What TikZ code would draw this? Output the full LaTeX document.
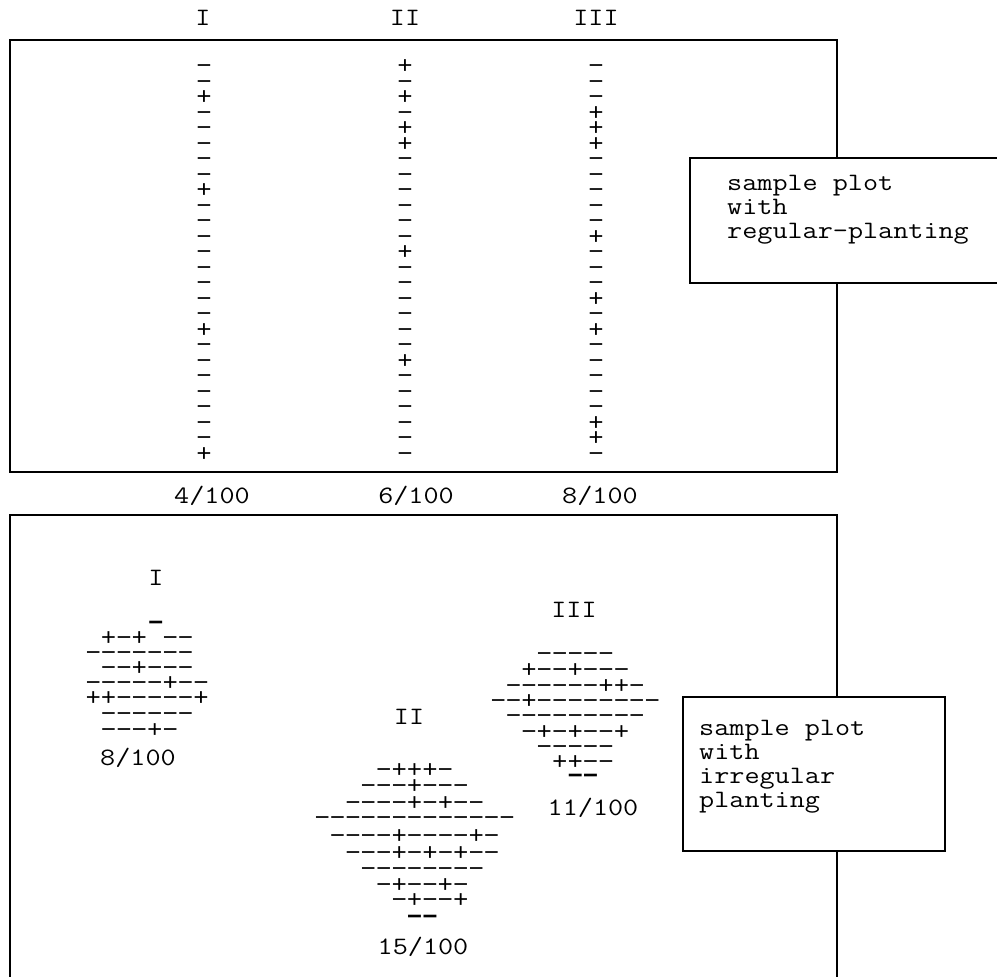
\documentclass[tikz,border=0pt]{standalone}
\usepackage{fontspec}
\newfontfamily\twfont[FakeStretch=1.173]{Latin Modern Mono}
\newfontfamily\symfont[FakeStretch=1.07]{Liberation Mono}
\tikzset{
  tw/.style={font={\twfont\fontsize{25}{26}\selectfont}, inner sep=0pt},
  twl/.style={tw, anchor=base west},
  sy/.style={font={\symfont\fontsize{24}{24}\selectfont}, inner sep=0pt, anchor=base west},
  syb/.style={sy, font={\symfont\bfseries\fontsize{24}{24}\selectfont}},
  frame/.style={line width=1.3pt, line cap=rect},
}
\newcommand\symrow[4]{\node[sy] (#1) at ({#2},{#3+7.5}) {#4};}
\newcommand\symrowb[4]{\node[syb] (#1) at ({#2},{#3+7.5}) {#4};}
\begin{document}
\begin{tikzpicture}[x=1pt,y=-1pt]
\useasboundingbox (0,0) rectangle (997,977);
% ---------- top plot ----------
\draw[frame] (10,40) rectangle (837,472);
\node[tw] (tI) at (203,18) {I};
\node[tw] (tII) at (405,18) {II};
\node[tw] (tIII) at (596,18) {III};
\foreach \s [count=\i from 0] in {−,−,+,−,−,−,−,−,+,−,−,−,−,−,−,−,−,+,−,−,−,−,−,−,−,+}
  \node[sy, anchor=base] (cI-\i) at (204,{66+15.5*\i+7.5}) {\s};
\foreach \s [count=\i from 0] in {+,−,+,−,+,+,−,−,−,−,−,−,+,−,−,−,−,−,−,+,−,−,−,−,−,−}
  \node[sy, anchor=base] (cII-\i) at (405,{66+15.5*\i+7.5}) {\s};
\foreach \s [count=\i from 0] in {−,−,−,+,+,+,−,−,−,−,−,+,−,−,−,+,−,+,−,−,−,−,−,+,+,−}
  \node[sy, anchor=base] (cIII-\i) at (596,{66+15.5*\i+7.5}) {\s};
\node[tw] (fI) at (212,496) {4/100};
\node[tw] (fII) at (416,496) {6/100};
\node[tw] (fIII) at (600,496) {8/100};
% label box top
\fill[white] (690,158) rectangle (997,283);
\draw[frame] (997,158) -- (690,158) -- (690,283) -- (997,283);
\node[twl] (l1) at (727,190) {sample plot};
\node[twl] (l2) at (727,214) {with};
\node[twl] (l3) at (727,238) {regular-planting};
% ---------- bottom plot ----------
\draw[frame] (10,980) -- (10,515) -- (837,515) -- (837,980);
% cluster I : left edge = 85.3 + 15.4 c
\node[tw] (kI) at (156,578) {I};
\symrowb{aI0}{148.0}{623}{−}
\symrow{aI1a}{100.7}{638}{+−+}
\symrow{aI1b}{162.3}{638}{−−}
\symrow{aI2}{85.3}{653}{−−−−−−−}
\symrow{aI3}{100.7}{668}{−−+−−−}
\symrow{aI4}{85.3}{683}{−−−−−+−−}
\symrow{aI5}{85.3}{698}{++−−−−−+}
\symrow{aI6}{100.7}{714}{−−−−−−}
\symrow{aI7}{100.7}{730}{−−−+−}
\node[tw] (gI) at (138,758) {8/100};
% cluster II : left edge = 314.3 + 15.4 c
\node[tw] (kII) at (409,717) {II};
\symrow{aII0}{375.9}{770}{−+++−}
\symrow{aII1}{360.5}{786}{−−−+−−−}
\symrow{aII2}{345.1}{803}{−−−−+−+−−}
\symrow{aII3}{314.3}{818}{−−−−−−−−−−−−−}
\symrow{aII4}{329.7}{836}{−−−−+−−−−+−}
\symrow{aII5}{345.1}{853}{−−−+−+−+−−}
\symrow{aII6}{360.5}{869}{−−−−−−−−}
\symrow{aII7}{375.9}{885}{−+−−+−}
\symrow{aII8}{391.3}{900}{−+−−+}
\symrowb{aII9}{406.7}{917}{−−}
\node[tw] (gII) at (423,947) {15/100};
% cluster III : left edge = 490.3 + 15.4 c
\node[tw] (kIII) at (574,610) {III};
\symrow{aIII0}{536.5}{654}{−−−−−}
\symrow{aIII1}{521.1}{670}{+−−+−−−}
\symrow{aIII2}{505.7}{686}{−−−−−−++−}
\symrow{aIII3}{490.3}{701}{−−+−−−−−−−−}
\symrow{aIII4}{505.7}{716}{−−−−−−−−−}
\symrow{aIII5}{521.1}{732}{−+−+−−+}
\symrow{aIII6}{536.5}{747}{−−−−−}
\symrow{aIII7}{551.9}{762}{++−−}
\symrowb{aIII8}{567.3}{776}{−−}
\node[tw] (gIII) at (593,808) {11/100};
% label box bottom
\fill[white] (683,697) rectangle (945,851);
\draw[frame] (683,697) rectangle (945,851);
\node[twl] (m1) at (699,735) {sample plot};
\node[twl] (m2) at (699,759) {with};
\node[twl] (m3) at (699,783) {irregular};
\node[twl] (m4) at (699,807) {planting};
\end{tikzpicture}
\end{document}
